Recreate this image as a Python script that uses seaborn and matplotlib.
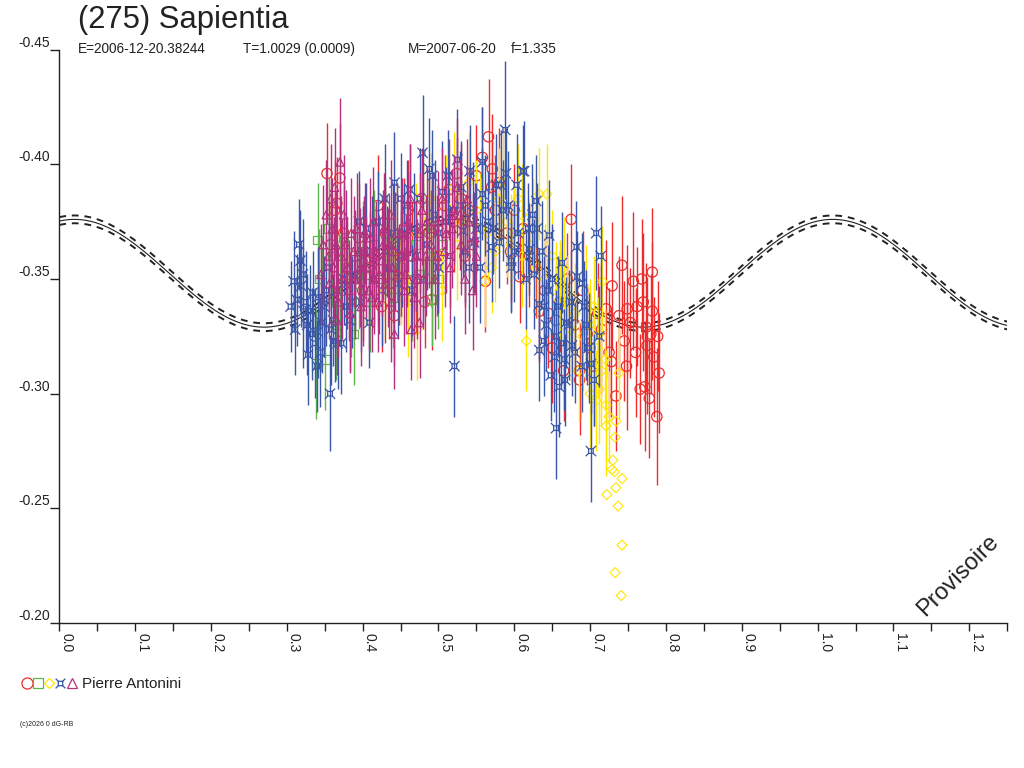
import numpy as np
import matplotlib
matplotlib.use("Agg")
import matplotlib.pyplot as plt
from matplotlib.path import Path
from matplotlib.lines import Line2D
from matplotlib.legend_handler import HandlerTuple
import seaborn as sns

# ---------------- data ----------------
red_phase = [0.353, 0.370, 0.366, 0.420, 0.425, 0.442, 0.482, 0.491, 0.566, 0.558, 0.571, 0.570, 0.514, 0.675,
             0.562, 0.607, 0.633, 0.655, 0.686, 0.696, 0.742, 0.729, 0.757, 0.768, 0.782, 0.721, 0.738, 0.749,
             0.753, 0.782, 0.745, 0.774, 0.780, 0.789, 0.775, 0.784, 0.725, 0.728, 0.791, 0.766, 0.772, 0.778,
             0.734, 0.788, 0.686, 0.375, 0.390, 0.400, 0.410, 0.430, 0.450, 0.460, 0.470, 0.500, 0.520, 0.540,
             0.550, 0.575, 0.590, 0.600, 0.620, 0.640, 0.660, 0.670, 0.680, 0.700, 0.710, 0.363, 0.524, 0.535,
             0.650, 0.665, 0.358, 0.380, 0.395, 0.415, 0.435, 0.455, 0.465, 0.478, 0.488, 0.508, 0.530, 0.545,
             0.580, 0.595, 0.612, 0.628, 0.645, 0.690, 0.705, 0.715, 0.760, 0.762, 0.748, 0.770]
red_mag = [-0.396, -0.394, -0.383, -0.382, -0.338, -0.334, -0.340, -0.341, -0.412, -0.403, -0.398, -0.390, -0.389, -0.376,
           -0.349, -0.351, -0.336, -0.332, -0.310, -0.326, -0.356, -0.347, -0.349, -0.350, -0.353, -0.337, -0.334, -0.337,
           -0.331, -0.336, -0.323, -0.329, -0.326, -0.325, -0.321, -0.316, -0.318, -0.314, -0.309, -0.302, -0.303, -0.298,
           -0.299, -0.290, -0.306, -0.370, -0.360, -0.345, -0.355, -0.370, -0.360, -0.380, -0.350, -0.360, -0.375, -0.380,
           -0.395, -0.380, -0.370, -0.380, -0.360, -0.345, -0.340, -0.350, -0.330, -0.320, -0.335, -0.380, -0.396, -0.360,
           -0.320, -0.310, -0.365, -0.350, -0.368, -0.360, -0.348, -0.372, -0.360, -0.385, -0.370, -0.382, -0.385, -0.365,
           -0.392, -0.362, -0.372, -0.355, -0.335, -0.345, -0.312, -0.328, -0.318, -0.338, -0.312, -0.340]
red_err = [0.022, 0.024, 0.020, 0.022, 0.020, 0.022, 0.020, 0.022, 0.025, 0.022, 0.024, 0.020, 0.022, 0.024,
           0.022, 0.020, 0.022, 0.024, 0.020, 0.022, 0.030, 0.028, 0.030, 0.026, 0.028, 0.030, 0.026, 0.028,
           0.024, 0.030, 0.026, 0.028, 0.026, 0.024, 0.030, 0.026, 0.028, 0.024, 0.026, 0.024, 0.028, 0.026,
           0.024, 0.030, 0.024, 0.022, 0.020, 0.022, 0.024, 0.022, 0.020, 0.022, 0.024, 0.020, 0.022, 0.020,
           0.022, 0.024, 0.022, 0.020, 0.022, 0.024, 0.022, 0.020, 0.022, 0.024, 0.022, 0.022, 0.024, 0.022,
           0.024, 0.022, 0.024, 0.022, 0.024, 0.022, 0.024, 0.022, 0.024, 0.022, 0.024, 0.022, 0.024, 0.022,
           0.024, 0.022, 0.024, 0.022, 0.024, 0.026, 0.026, 0.028, 0.028, 0.026, 0.028, 0.030]

green_phase = [0.341, 0.343, 0.339, 0.351, 0.388, 0.491, 0.360, 0.370, 0.380, 0.400, 0.410, 0.420, 0.430, 0.450,
               0.460, 0.470, 0.490, 0.395, 0.440, 0.365, 0.375, 0.480, 0.505, 0.347, 0.355, 0.385, 0.405, 0.415,
               0.435, 0.445, 0.465, 0.475, 0.500]
green_mag = [-0.367, -0.350, -0.313, -0.315, -0.326, -0.341, -0.360, -0.345, -0.355, -0.362, -0.340, -0.350, -0.370, -0.355,
             -0.350, -0.365, -0.360, -0.348, -0.342, -0.330, -0.368, -0.372, -0.365, -0.340, -0.372, -0.340, -0.352, -0.365,
             -0.360, -0.368, -0.345, -0.352, -0.350]
green_err = [0.025, 0.022, 0.024, 0.022, 0.022, 0.020, 0.022, 0.024, 0.020, 0.022, 0.022, 0.020, 0.024, 0.022,
             0.020, 0.022, 0.022, 0.020, 0.022, 0.024, 0.022, 0.020, 0.022, 0.024, 0.022, 0.024, 0.022, 0.024,
             0.022, 0.024, 0.022, 0.024, 0.022]

yellow_phase = [0.633, 0.643, 0.616, 0.561, 0.716, 0.738, 0.708, 0.721, 0.725, 0.734, 0.721, 0.733, 0.730, 0.729,
                0.732, 0.742, 0.734, 0.722, 0.737, 0.742, 0.733, 0.741, 0.470, 0.490, 0.500, 0.520, 0.530, 0.550,
                0.565, 0.580, 0.590, 0.600, 0.610, 0.620, 0.630, 0.640, 0.650, 0.660, 0.670, 0.680, 0.690, 0.700,
                0.710, 0.715, 0.720, 0.695, 0.472, 0.450, 0.430, 0.460, 0.440, 0.505, 0.685, 0.700, 0.570, 0.610,
                0.455, 0.480, 0.510, 0.525, 0.540, 0.555, 0.575, 0.585, 0.595, 0.605, 0.625, 0.655, 0.665, 0.675,
                0.705, 0.712]
yellow_mag = [-0.387, -0.387, -0.323, -0.349, -0.349, -0.309, -0.297, -0.295, -0.290, -0.288, -0.286, -0.281, -0.271, -0.267,
              -0.266, -0.263, -0.259, -0.256, -0.251, -0.234, -0.222, -0.212, -0.370, -0.385, -0.360, -0.390, -0.375, -0.380,
              -0.370, -0.385, -0.375, -0.370, -0.360, -0.365, -0.355, -0.350, -0.360, -0.345, -0.340, -0.335, -0.325, -0.330,
              -0.320, -0.310, -0.315, -0.345, -0.328, -0.350, -0.345, -0.340, -0.360, -0.345, -0.310, -0.300, -0.355, -0.378,
              -0.365, -0.378, -0.382, -0.365, -0.392, -0.372, -0.362, -0.392, -0.365, -0.385, -0.372, -0.342, -0.355, -0.328,
              -0.338, -0.302]
yellow_err = [0.020, 0.022, 0.022, 0.020, 0.024, 0.020, 0.022, 0.024, 0.020, 0.0, 0.022, 0.0, 0.0, 0.0,
              0.0, 0.0, 0.0, 0.0, 0.0, 0.0, 0.0, 0.0, 0.022, 0.020, 0.022, 0.024, 0.020, 0.022,
              0.020, 0.022, 0.024, 0.020, 0.022, 0.020, 0.022, 0.024, 0.020, 0.022, 0.020, 0.022, 0.024, 0.020,
              0.022, 0.024, 0.022, 0.020, 0.022, 0.020, 0.022, 0.024, 0.020, 0.022, 0.022, 0.024, 0.020, 0.022,
              0.022, 0.024, 0.022, 0.024, 0.022, 0.024, 0.022, 0.024, 0.022, 0.024, 0.022, 0.024, 0.022, 0.024,
              0.022, 0.024]

blue_phase = [0.316, 0.318, 0.319, 0.313, 0.325, 0.322, 0.330, 0.341, 0.334, 0.311, 0.328, 0.340, 0.337, 0.341,
              0.357, 0.346, 0.361, 0.363, 0.367, 0.372, 0.409, 0.383, 0.386, 0.429, 0.442, 0.462, 0.479, 0.488,
              0.492, 0.521, 0.588, 0.525, 0.558, 0.541, 0.613, 0.589, 0.603, 0.582, 0.629, 0.624, 0.630, 0.708,
              0.714, 0.682, 0.646, 0.663, 0.620, 0.596, 0.580, 0.570, 0.547, 0.532, 0.545, 0.558, 0.576, 0.633,
              0.639, 0.655, 0.639, 0.633, 0.668, 0.676, 0.653, 0.666, 0.689, 0.701, 0.705, 0.659, 0.683, 0.689,
              0.596, 0.701, 0.655, 0.667, 0.611, 0.400, 0.415, 0.425, 0.440, 0.450, 0.455, 0.470, 0.480, 0.500,
              0.500, 0.510, 0.520, 0.530, 0.395, 0.375, 0.352, 0.435, 0.465, 0.515, 0.540, 0.565, 0.605, 0.615,
              0.645, 0.675, 0.695, 0.585,
              0.305, 0.309, 0.321, 0.327, 0.333, 0.344, 0.349, 0.355, 0.358, 0.366, 0.378, 0.390, 0.398, 0.405,
              0.412, 0.420, 0.432, 0.446, 0.452, 0.458, 0.468, 0.475, 0.485, 0.495, 0.505, 0.512, 0.528, 0.535,
              0.550, 0.555, 0.562, 0.572, 0.592, 0.600, 0.618, 0.626, 0.636, 0.642, 0.650, 0.658, 0.662, 0.672,
              0.680, 0.692, 0.698, 0.712, 0.648]
blue_mag = [-0.365, -0.358, -0.347, -0.341, -0.340, -0.336, -0.336, -0.342, -0.344, -0.328, -0.317, -0.312, -0.322, -0.327,
            -0.300, -0.331, -0.332, -0.323, -0.322, -0.322, -0.331, -0.332, -0.340, -0.385, -0.392, -0.389, -0.405, -0.398,
            -0.395, -0.312, -0.415, -0.402, -0.401, -0.397, -0.397, -0.396, -0.391, -0.391, -0.384, -0.378, -0.372, -0.370,
            -0.360, -0.364, -0.369, -0.357, -0.363, -0.358, -0.366, -0.364, -0.366, -0.371, -0.379, -0.387, -0.391, -0.339,
            -0.338, -0.325, -0.323, -0.319, -0.331, -0.321, -0.316, -0.315, -0.312, -0.313, -0.306, -0.303, -0.351, -0.348,
            -0.355, -0.275, -0.285, -0.306, -0.397, -0.360, -0.350, -0.345, -0.370, -0.385, -0.370, -0.360, -0.350, -0.370,
            -0.355, -0.375, -0.380, -0.390, -0.375, -0.350, -0.345, -0.355, -0.345, -0.360, -0.355, -0.375, -0.370, -0.350,
            -0.345, -0.340, -0.330, -0.380,
            -0.338, -0.349, -0.352, -0.330, -0.326, -0.318, -0.338, -0.355, -0.328, -0.345, -0.338, -0.352, -0.340, -0.372,
            -0.362, -0.375, -0.362, -0.348, -0.360, -0.382, -0.372, -0.385, -0.365, -0.378, -0.388, -0.395, -0.382, -0.362,
            -0.372, -0.355, -0.382, -0.372, -0.382, -0.362, -0.372, -0.352, -0.362, -0.330, -0.350, -0.338, -0.322, -0.330,
            -0.318, -0.338, -0.320, -0.325, -0.308]
blue_err = [0.020, 0.022, 0.018, 0.020, 0.022, 0.025, 0.020, 0.022, 0.018, 0.020, 0.022, 0.020, 0.024, 0.020,
            0.025, 0.022, 0.020, 0.018, 0.020, 0.022, 0.020, 0.022, 0.020, 0.024, 0.022, 0.020, 0.025, 0.022,
            0.020, 0.022, 0.030, 0.022, 0.024, 0.020, 0.022, 0.020, 0.022, 0.024, 0.020, 0.022, 0.020, 0.025,
            0.022, 0.020, 0.024, 0.022, 0.020, 0.022, 0.020, 0.024, 0.022, 0.020, 0.022, 0.020, 0.022, 0.024,
            0.022, 0.020, 0.024, 0.022, 0.020, 0.022, 0.024, 0.022, 0.020, 0.022, 0.020, 0.022, 0.020, 0.022,
            0.020, 0.022, 0.022, 0.020, 0.020, 0.022, 0.020, 0.024, 0.022, 0.020, 0.022, 0.024, 0.020, 0.022,
            0.020, 0.024, 0.022, 0.020, 0.022, 0.020, 0.024, 0.022, 0.020, 0.022, 0.024, 0.022, 0.020, 0.022,
            0.020, 0.022, 0.024, 0.022,
            0.020, 0.022, 0.024, 0.022, 0.020, 0.024, 0.022, 0.020, 0.024, 0.022, 0.020, 0.024, 0.022, 0.020,
            0.024, 0.022, 0.020, 0.024, 0.022, 0.020, 0.024, 0.022, 0.020, 0.024, 0.022, 0.020, 0.024, 0.022,
            0.020, 0.024, 0.022, 0.020, 0.024, 0.022, 0.020, 0.024, 0.022, 0.020, 0.024, 0.022, 0.020, 0.024,
            0.022, 0.020, 0.024, 0.022, 0.020]

magenta_phase = [0.352, 0.370, 0.360, 0.365, 0.372, 0.380, 0.385, 0.390, 0.395, 0.400, 0.405, 0.410, 0.415, 0.420,
                 0.425, 0.430, 0.435, 0.440, 0.445, 0.450, 0.455, 0.460, 0.470, 0.475, 0.480, 0.490, 0.500, 0.510,
                 0.520, 0.530, 0.540, 0.550, 0.545, 0.442, 0.464, 0.475, 0.358, 0.362, 0.368, 0.375, 0.382, 0.388,
                 0.398, 0.403, 0.412, 0.418, 0.428, 0.438, 0.448, 0.458, 0.468, 0.485, 0.495, 0.505, 0.515, 0.525,
                 0.535, 0.355, 0.345,
                 0.348, 0.356, 0.363, 0.366, 0.373, 0.378, 0.384, 0.392, 0.397, 0.402, 0.408, 0.414, 0.422, 0.427,
                 0.433, 0.437, 0.443, 0.452, 0.457, 0.463, 0.472, 0.478, 0.483, 0.493, 0.498, 0.508, 0.518, 0.528,
                 0.538, 0.548]
magenta_mag = [-0.378, -0.401, -0.372, -0.365, -0.360, -0.355, -0.370, -0.350, -0.362, -0.345, -0.355, -0.368, -0.350, -0.340,
               -0.358, -0.348, -0.365, -0.355, -0.370, -0.360, -0.345, -0.375, -0.360, -0.370, -0.350, -0.365, -0.375, -0.370,
               -0.380, -0.365, -0.375, -0.360, -0.345, -0.326, -0.328, -0.331, -0.385, -0.355, -0.340, -0.378, -0.345, -0.362,
               -0.338, -0.370, -0.342, -0.362, -0.372, -0.340, -0.352, -0.362, -0.342, -0.375, -0.350, -0.385, -0.355, -0.390,
               -0.350, -0.360, -0.352,
               -0.365, -0.348, -0.390, -0.332, -0.350, -0.365, -0.335, -0.372, -0.355, -0.362, -0.345, -0.375, -0.352, -0.365,
               -0.355, -0.378, -0.362, -0.370, -0.352, -0.385, -0.350, -0.380, -0.360, -0.372, -0.360, -0.362, -0.372, -0.378,
               -0.385, -0.368]
magenta_err = [0.024, 0.028, 0.022, 0.024, 0.026, 0.022, 0.024, 0.026, 0.022, 0.024, 0.022, 0.026, 0.024, 0.022,
               0.024, 0.026, 0.022, 0.024, 0.022, 0.026, 0.024, 0.022, 0.024, 0.026, 0.022, 0.024, 0.022, 0.026,
               0.024, 0.022, 0.024, 0.022, 0.026, 0.024, 0.022, 0.024, 0.024, 0.022, 0.024, 0.026, 0.022, 0.024,
               0.026, 0.022, 0.024, 0.022, 0.024, 0.026, 0.022, 0.024, 0.022, 0.024, 0.026, 0.022, 0.024, 0.022,
               0.024, 0.024, 0.022,
               0.026, 0.024, 0.026, 0.024, 0.026, 0.024, 0.026, 0.024, 0.026, 0.024, 0.026, 0.024, 0.026, 0.024,
               0.026, 0.024, 0.026, 0.024, 0.026, 0.024, 0.026, 0.024, 0.026, 0.024, 0.026, 0.024, 0.026, 0.024,
               0.026, 0.024]

# Fourier fit of the lightcurve: mean, cos(4*pi*phi), sin(4*pi*phi) coefficients, and its 1-sigma band
fit_mean = -0.3525
fit_c2 = -0.02276
fit_s2 = -0.00584
fit_band = 0.0017

title = "(275) Sapientia"
info = ["E=2006-12-20.38244", "T=1.0029 (0.0009)", "M=2007-06-20", "f=1.335"]
observer = "Pierre Antonini"
x_ticks = [0.0, 0.1, 0.2, 0.3, 0.4, 0.5, 0.6, 0.7, 0.8, 0.9, 1.0, 1.1, 1.2]
y_ticks = [-0.45, -0.40, -0.35, -0.30, -0.25, -0.20]

# ---------------- styling ----------------
sns.set_style("ticks")
plt.rcParams["font.family"] = ["Liberation Sans", "DejaVu Sans"]

c_red = "#EE2B2B"
c_green = "#5DB84A"
c_yellow = "#FFE600"
c_blue = "#3A56A8"
c_mag = "#B3317E"

# custom "square with corner spokes" marker for the blue series
star_sq = Path(
    [(-0.45, -0.45), (0.45, -0.45), (0.45, 0.45), (-0.45, 0.45), (-0.45, -0.45),
     (-0.45, -0.45), (-1, -1), (0.45, -0.45), (1, -1), (0.45, 0.45), (1, 1), (-0.45, 0.45), (-1, 1)],
    [Path.MOVETO, Path.LINETO, Path.LINETO, Path.LINETO, Path.CLOSEPOLY,
     Path.MOVETO, Path.LINETO, Path.MOVETO, Path.LINETO, Path.MOVETO, Path.LINETO, Path.MOVETO, Path.LINETO])

fig = plt.figure(figsize=(10.24, 7.68), dpi=100)
ax = fig.add_axes([59.3 / 1024, (768 - 623.1) / 768, 947.9 / 1024, 573.5 / 768])

# fit curve (beneath the data)
phi = np.linspace(0, 1.25, 600)
fit = fit_mean + fit_c2 * np.cos(4 * np.pi * phi) + fit_s2 * np.sin(4 * np.pi * phi)
ax.plot(phi, fit, color="#222222", lw=0.8, zorder=1)
ax.plot(phi, fit - fit_band, color="#222222", lw=1.4, ls=(0, (3.5, 3)), zorder=1)
ax.plot(phi, fit + fit_band, color="#222222", lw=1.4, ls=(0, (3.5, 3)), zorder=1)

series = [
    (red_phase, red_mag, red_err, c_red, "o", 55, 0.9),
    (green_phase, green_mag, green_err, c_green, "s", 40, 0.9),
    (yellow_phase, yellow_mag, yellow_err, c_yellow, "D", 26, 0.8),
    (blue_phase, blue_mag, blue_err, c_blue, star_sq, 55, 0.9),
    (magenta_phase, magenta_mag, magenta_err, c_mag, "^", 36, 0.9),
]
z = 2
for ph, mg, er, col, mk, sz, lw in series:
    ph = np.asarray(ph); mg = np.asarray(mg); er = np.asarray(er)
    has = er > 0
    ax.errorbar(ph[has], mg[has], yerr=er[has], fmt="none", ecolor=col, elinewidth=1.0, capsize=0, zorder=z)
    sns.scatterplot(x=ph, y=mg, ax=ax, marker=mk, s=sz, color=col, edgecolor=col,
                    facecolor="none", linewidth=lw, zorder=z + 0.5, legend=False)
    z += 1

# axes
ax.set_xlim(0, 1.25)
ax.set_ylim(-0.20, -0.45)
ax.set_xticks(x_ticks)
ax.set_xticks(np.arange(0.05, 1.26, 0.1), minor=True)
ax.set_xticklabels([f"{v:.1f}" for v in x_ticks], rotation=270, ha="left", va="top", fontsize=10)
ax.set_yticks(y_ticks)
ax.set_yticklabels([f"{v:.2f}" for v in y_ticks], fontsize=10, va="bottom")
ax.tick_params(axis="x", which="both", direction="out", length=6, width=1, color="#222222", pad=1,
               labelcolor="#222222")
ax.tick_params(axis="y", which="both", direction="out", length=6.5, width=1, color="#222222", pad=0,
               labelcolor="#222222")
for s in ["top", "right"]:
    ax.spines[s].set_visible(False)
for s in ["left", "bottom"]:
    ax.spines[s].set_color("#222222")
    ax.spines[s].set_linewidth(1)
ax.set_xlabel("")
ax.set_ylabel("")
ax.grid(False)

ax.text(0.948, 0.083, "Provisoire", transform=ax.transAxes, rotation=45, fontsize=17,
        ha="center", va="center", color="#222222")

# titles
fig.text(78 / 1024, 1 - 20 / 768, title, fontsize=22.3, ha="left", va="center", color="#222222")
info_x = [78, 243, 408, 511]
for tx, s in zip(info_x, info):
    fig.text(tx / 1024, 1 - 49 / 768, s, fontsize=9.8, ha="left", va="center", color="#222222")

# legend
handles = (
    Line2D([], [], ls="none", marker="o", ms=8, mfc="none", mec=c_red, mew=0.9),
    Line2D([], [], ls="none", marker="s", ms=6.5, mfc="none", mec=c_green, mew=0.9),
    Line2D([], [], ls="none", marker="D", ms=5.5, mfc="none", mec=c_yellow, mew=0.9),
    Line2D([], [], ls="none", marker=star_sq, ms=7, mfc="none", mec=c_blue, mew=0.9),
    Line2D([], [], ls="none", marker="^", ms=6.5, mfc="none", mec=c_mag, mew=0.9),
)
fig.legend(handles=[handles], labels=[observer], loc="center left",
           bbox_to_anchor=(14 / 1024, 1 - 684 / 768), frameon=False, fontsize=11,
           handler_map={tuple: HandlerTuple(ndivide=None, pad=0.1)},
           handlelength=3.6, handletextpad=0.35, borderpad=0, labelcolor="#222222")

fig.text(20 / 1024, 1 - 725 / 768, "(c)2026 0 dG-RB", fontsize=5, ha="left", va="center", color="#222222")

fig.savefig("out.png", dpi=100)
